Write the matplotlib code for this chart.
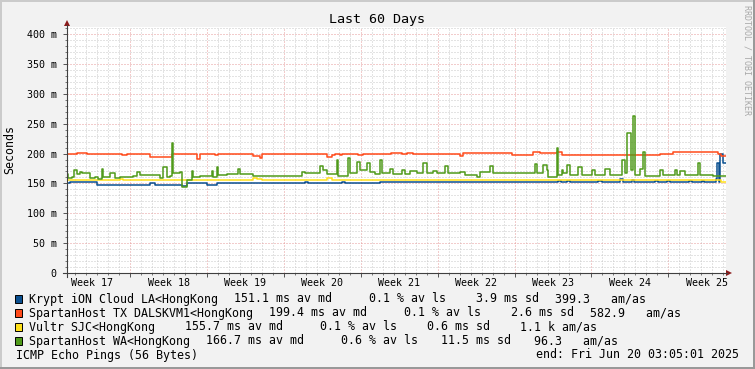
import matplotlib
matplotlib.use("Agg")
import matplotlib.pyplot as plt
from matplotlib.patches import Polygon, Rectangle
from matplotlib.lines import Line2D

# data (time in days since start of window, values in ms)
krypt_t = [0, 0.27, 2.73, 7.56, 8.0, 10.48, 10.93, 12.75, 13.67, 21.68, 21.9, 25.05, 25.3,
           28.51, 44.73, 45.0, 45.55, 45.82, 48.37, 48.74, 50.38, 50.6, 51.4, 51.6, 53.5, 53.8,
           54.66, 54.9, 56.6, 56.9, 57.8, 58.0, 58.5, 58.8, 59.12, 59.22, 59.4, 59.49, 59.76]
krypt_v = [150, 152, 147.3, 151, 148, 146, 151, 147, 150.6, 152, 150.6, 152, 150.6,
           151.8, 154.5, 151.8, 154, 151.8, 154, 151.8, 156.8, 151.8, 155, 151.8, 154, 151.8,
           154, 151.8, 154, 151.8, 154, 151.8, 153, 151.8, 158, 184, 152, 200, 185]

tx_t = [0, 0.91, 1.82, 5.01, 5.47, 7.56, 9.57, 11.84, 12.12, 12.75, 13.48, 13.76, 16.94,
        17.58, 17.76, 23.69, 24.14, 24.41, 24.87, 25.05, 26.51, 26.97, 29.5, 30.5, 31.0, 31.5,
        35.80, 36.08, 40.54, 42.45, 43.09, 44.64, 45.09, 54.02, 55.21, 59.31, 59.5]
tx_v = [199, 201, 200, 198, 200, 194, 200, 191, 198.5, 200, 198, 200, 196,
        192.5, 200, 194.6, 197, 200, 197.5, 200, 197, 200, 201.5, 200, 201.5, 200,
        196, 200.5, 197.5, 202, 200.5, 203, 198, 198.5, 202.5, 200, 196]

vultr_t = [0, 4.83, 5.10, 16.94, 17.31, 17.76, 23.69, 24.14, 24.41, 59.03, 59.5]
vultr_v = [155.6, 157.5, 155.6, 158.5, 157.2, 155.6, 158.5, 156.5, 155.6, 156.5, 153]

wa_t = [0, 0.09, 0.46, 0.64, 0.91, 1.18, 1.37, 2.10, 2.55, 2.82, 3.19, 3.28, 3.92, 4.37,
        4.83, 5.28, 6.01, 6.38, 6.65, 7.56, 8.47, 8.75, 9.11, 9.38, 9.57, 9.66, 10.29, 10.48,
        10.93, 11.39, 11.48, 12.12, 13.21, 13.30, 13.67, 13.76, 14.58, 15.58, 15.76, 16.94,
        21.41, 21.68, 23.05, 23.32, 23.69, 24.60, 24.69, 25.60, 25.78, 26.42, 26.69, 27.33,
        27.60, 28.06, 28.51, 28.70, 29.43, 29.70, 30.52, 30.79, 31.25, 31.89, 32.43, 32.80,
        33.34, 33.71, 34.44, 34.71, 35.80, 36.26, 37.35, 37.62, 38.54, 38.81, 40.54, 42.63,
        42.82, 43.36, 43.73, 43.82, 44.64, 44.73, 45.09, 45.19, 45.55, 45.82, 46.55, 46.92,
        47.83, 48.10, 49.01, 49.47, 50.56, 50.83, 51.02, 51.38, 51.56, 51.75, 52.20, 52.47,
        52.66, 54.02, 54.30, 55.39, 55.57, 55.84, 56.30, 57.48, 57.67, 58.85, 59.22]
wa_v = [165.7, 158.5, 160.7, 172.4, 165.7, 169, 166.7, 158.5, 161, 157, 173.6, 161, 167.3, 158.5,
        160, 161, 163, 169, 164.6, 163.4, 158.5, 177, 161, 163, 217, 166.7, 169, 144.5,
        155.6, 171, 161, 162, 171, 161, 177, 163.4, 165, 173.6, 165, 163,
        169, 167, 179, 172, 165, 189, 163, 192, 166.7, 186, 172, 184,
        169, 165, 189, 166.7, 175, 165.6, 172.4, 165.6, 170, 166.7, 183.6, 166.7,
        171, 166.7, 180, 167.5, 169, 164.6, 161, 169, 179, 166.7, 167, 182,
        166.7, 181.5, 172, 161, 208.7, 163.4, 172, 166.7, 180.7, 164, 177, 164,
        172, 164.5, 175, 164, 189, 168, 233.8, 172, 262.8, 164, 175, 203,
        162, 172, 164, 172, 164, 171, 164, 184, 164, 162, 163]

series_t = [krypt_t, tx_t, vultr_t, wa_t]
series_v = [krypt_v, tx_v, vultr_v, wa_v]
colors = ['#0a4f8f', '#ff4a1a', '#ffe01a', '#4f9a1a']
labels = ['Krypt iON Cloud LA<HongKong', 'SpartanHost TX DALSKVM1<HongKong',
          'Vultr SJC<HongKong', 'SpartanHost WA<HongKong']
median = [151.1, 199.4, 155.7, 166.7]
loss = [0.1, 0.1, 0.1, 0.6]
sdev = [3.9, 2.6, 0.6, 11.5]
amas = [399.3, 582.9, 1.1, 96.3]
amas_pfx = [' ', ' ', 'k', ' ']
weeks = ['Week 17', 'Week 18', 'Week 19', 'Week 20', 'Week 21', 'Week 22', 'Week 23', 'Week 24', 'Week 25']
span_days = 60

W, H = 755, 369
def fx(px):
    return px / W
def fy(py):
    return 1 - py / H

MONO = 'DejaVu Sans Mono'
fig = plt.figure(figsize=(W / 100, H / 100), dpi=100, facecolor='#f2f2f2')

# shaded frame
fig.add_artist(Rectangle((fx(0), fy(2)), fx(W), 2 / H, color='#cbcbcb', lw=0))
fig.add_artist(Rectangle((0, 0), 2 / W, 1, color='#cbcbcb', lw=0))
fig.add_artist(Rectangle((0, 0), 1, 2 / H, color='#999999', lw=0))
fig.add_artist(Rectangle((fx(W - 2), 0), 2 / W, 1, color='#999999', lw=0))

ax = fig.add_axes([fx(67), fy(273), (726 - 67) / W, (273 - 27) / H])
ax.set_facecolor('white')
for s in ax.spines.values():
    s.set_visible(False)

ax.set_xlim(0, span_days)
ax.set_ylim(0, 412)
week_start = 5.75
ax.set_xticks([week_start + 7 * k for k in range(8)])
ax.set_xticks([week_start - 5 + k for k in range(60)], minor=True)
ax.set_xticklabels([])
ax.set_yticks(range(0, 401, 50))
ax.set_yticks(range(0, 412, 10), minor=True)
ax.set_yticklabels(['0'] + ['%d m' % v for v in range(50, 401, 50)], fontfamily=MONO, fontsize=7.2)
ax.tick_params(axis='y', which='major', length=3, width=0.7, color='#555555', pad=4.5)
ax.tick_params(axis='y', which='minor', length=1.6, width=0.7, color='#777777')
ax.tick_params(axis='x', which='major', length=3, width=0.7, color='#555555')
ax.tick_params(axis='x', which='minor', length=1.6, width=0.7, color='#777777')
ax.grid(which='minor', color='#c8c8c8', lw=0.72, ls=(0, (1, 2)))
ax.grid(which='major', color='#e69a9a', lw=0.72, ls=(0, (1, 2)))
ax.set_axisbelow(True)

for t, v, c in zip(series_t, series_v, colors):
    ax.plot(t + [span_days], v + [v[-1]], drawstyle='steps-post', color=c, lw=1.1, zorder=3)

for i, w in enumerate(weeks):
    ax.text(week_start - 3.5 + 7 * i, -(283 - 273) / (273 - 27), w, transform=ax.get_xaxis_transform(),
            ha='center', va='center', fontfamily=MONO, fontsize=7.2)

# axis lines and arrows
fig.add_artist(Line2D([fx(67), fx(67)], [fy(277), fy(25)], color='#404040', lw=0.8))
fig.add_artist(Line2D([fx(63), fx(727)], [fy(273), fy(273)], color='#404040', lw=0.8))
fig.add_artist(Polygon([(fx(64), fy(26)), (fx(70), fy(26)), (fx(67), fy(20))], closed=True, color='#8b1a1a', lw=0))
fig.add_artist(Polygon([(fx(726), fy(270)), (fx(726), fy(276)), (fx(732), fy(273))], closed=True, color='#8b1a1a', lw=0))

fig.text(fx(377), fy(20), 'Last 60 Days', ha='center', va='center', fontfamily=MONO, fontsize=9.6)
fig.text(fx(10), fy(150), 'Seconds', ha='center', va='center', rotation=90, fontfamily=MONO, fontsize=8.4)
fig.text(fx(747), fy(5), 'RRDTOOL / TOBI OETIKER', ha='center', va='top', rotation=270,
         fontfamily=MONO, fontsize=6, color='#a8a8a8')

# legend
cw = 7.0
gap = 16
for i in range(4):
    y = 299 + 14 * i
    fig.add_artist(Rectangle((fx(15), fy(y + 4)), 7 / W, 8 / H, facecolor=colors[i], edgecolor='black', lw=0.7))
    pieces = ['%-20s' % labels[i],
              '%5.1f ms av md ' % median[i],
              '%5.1f %% av ls' % loss[i],
              '%5.1f ms sd' % sdev[i],
              '%5.1f %s am/as' % (amas[i], amas_pfx[i])]
    x = 29.2
    for p in pieces:
        fig.text(fx(x), fy(y), p, ha='left', va='center', fontfamily=MONO, fontsize=8.37)
        x += len(p) * cw + gap
fig.text(fx(16), fy(355), 'ICMP Echo Pings (56 Bytes)', ha='left', va='center', fontfamily=MONO, fontsize=8.37)
fig.text(fx(739), fy(355), 'end: Fri Jun 20 03:05:01 2025', ha='right', va='center', fontfamily=MONO, fontsize=8.37)

fig.savefig('out.png', dpi=100, facecolor=fig.get_facecolor())
